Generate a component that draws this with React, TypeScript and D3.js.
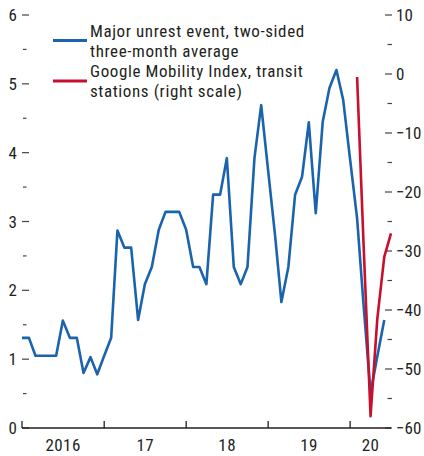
import React, { useRef, useEffect } from 'react';
import * as d3 from 'd3';

// Major unrest event index, three-month average (left scale), monthly from Jan 2016
const unrestMonths = d3.timeMonths(new Date(2016, 0, 1), new Date(2020, 6, 1));
const unrestValues = [
  1.31, 1.31, 1.05, 1.05, 1.05, 1.05, 1.56, 1.31, 1.31, 0.8, 1.03, 0.78,
  1.05, 1.31, 2.87, 2.62, 2.62, 1.57, 2.09, 2.34, 2.88, 3.14, 3.14, 3.14,
  2.88, 2.34, 2.34, 2.09, 3.39, 3.39, 3.92, 2.34, 2.09, 2.34, 3.92, 4.69,
  3.74, 2.79, 1.83, 2.34, 3.39, 3.65, 4.44, 3.12, 4.45, 4.94, 5.2, 4.77,
  3.9, 3.05, 1.78, 0.51, 1.04, 1.57,
];

// Google Mobility Index, transit stations (right scale)
const mobilityDates = ['2020-02-01', '2020-03-01', '2020-04-01', '2020-05-01', '2020-06-01', '2020-07-01'];
const mobilityValues = [-0.5, -29, -58, -41.5, -31, -27];

const leftTicks = [0, 1, 2, 3, 4, 5, 6];
const rightTicks = [10, 0, -10, -20, -30, -40, -50, -60];
const yearLabels = ['2016', '17', '18', '19', '20'];
const legendLabels = [
  ['Major unrest event, two-sided', 'three-month average'],
  ['Google Mobility Index, transit', 'stations (right scale)'],
];

const BLUE = '#1b63ad';
const RED = '#c8102e';
const FONT = '"Liberation Sans Narrow", "Arial Narrow", "Roboto Condensed", sans-serif';

const App = () => {
  const svgRef = useRef(null);
  const width = 424;
  const height = 456;

  useEffect(() => {
    const svg = d3.select(svgRef.current);
    svg.selectAll('*').remove();

    const left = 22, right = 391, top = 15, bottom = 428;

    const x = d3.scaleTime()
      .domain([new Date(2016, 0, 1), new Date(2020, 6, 1)])
      .range([left, right]);
    const yL = d3.scaleLinear().domain([0, 6]).range([bottom, top]);
    const yR = d3.scaleLinear().domain([-60, 10]).range([bottom, top]);

    const g = svg.append('g').style('font-family', FONT).style('font-size', '17px');

    // left axis ticks + labels
    d3.range(0, 6.01, 0.5).forEach(v => {
      const major = Number.isInteger(v);
      g.append('line')
        .attr('x1', major ? left : left + 1)
        .attr('x2', major ? left + 7 : left + 4.5)
        .attr('y1', yL(v)).attr('y2', yL(v))
        .attr('stroke', '#444').attr('stroke-width', 1.2);
    });
    leftTicks.forEach(v => {
      g.append('text')
        .attr('x', 17).attr('y', yL(v) + 6)
        .attr('text-anchor', 'end')
        .attr('fill', '#231f20')
        .text(v);
    });

    // right axis ticks + labels
    d3.range(-60, 10.01, 5).forEach(v => {
      const major = v % 10 === 0;
      g.append('line')
        .attr('x1', major ? right - 6 : right - 3.5)
        .attr('x2', right + 1)
        .attr('y1', yR(v)).attr('y2', yR(v))
        .attr('stroke', '#444').attr('stroke-width', 1.2);
    });
    rightTicks.forEach(v => {
      g.append('text')
        .attr('x', 396).attr('y', yR(v) + 6)
        .attr('fill', '#231f20')
        .text(v < 0 ? '\u2212' + Math.abs(v) : String(v));
    });

    // bottom axis
    g.append('line')
      .attr('x1', left).attr('x2', right)
      .attr('y1', bottom).attr('y2', bottom)
      .attr('stroke', '#231f20').attr('stroke-width', 1.3);
    const years = [2016, 2017, 2018, 2019, 2020];
    years.forEach((yr, i) => {
      g.append('line')
        .attr('x1', x(new Date(yr, 0, 1))).attr('x2', x(new Date(yr, 0, 1)))
        .attr('y1', bottom).attr('y2', bottom - 7)
        .attr('stroke', '#231f20').attr('stroke-width', 1.3);
      const end = yr === 2020 ? new Date(2020, 6, 1) : new Date(yr + 1, 0, 1);
      const mid = (x(new Date(yr, 0, 1)) + x(end)) / 2;
      g.append('text')
        .attr('x', mid).attr('y', 451)
        .attr('text-anchor', 'middle')
        .attr('fill', '#231f20')
        .style('letter-spacing', '0.4px')
        .text(yearLabels[i]);
    });

    // lines
    const unrestLine = d3.line()
      .x((d, i) => x(unrestMonths[i]))
      .y(d => yL(d));
    g.append('path')
      .datum(unrestValues)
      .attr('d', unrestLine)
      .attr('fill', 'none')
      .attr('stroke', BLUE)
      .attr('stroke-width', 2.6)
      .attr('stroke-linejoin', 'round');

    const mobilityLine = d3.line()
      .x((d, i) => x(d3.timeParse('%Y-%m-%d')(mobilityDates[i])))
      .y(d => yR(d));
    g.append('path')
      .datum(mobilityValues)
      .attr('d', mobilityLine)
      .attr('fill', 'none')
      .attr('stroke', RED)
      .attr('stroke-width', 2.6)
      .attr('stroke-linejoin', 'round');

    // legend
    [BLUE, RED].forEach((c, i) => {
      const y0 = 36.5 + i * 40.5;
      g.append('line')
        .attr('x1', 53).attr('x2', 87)
        .attr('y1', y0 + 4).attr('y2', y0 + 4)
        .attr('stroke', c).attr('stroke-width', 3);
      legendLabels[i].forEach((t, j) => {
        g.append('text')
          .attr('x', 90).attr('y', y0 + j * 20)
          .attr('fill', '#231f20')
          .style('letter-spacing', '0.6px')
          .text(t);
      });
    });
  }, []);

  return (
    <svg
      ref={svgRef}
      width={width}
      height={height}
      style={{ position: 'absolute', left: 0, top: 0, background: '#fff' }}
    />
  );
};

export default App;
